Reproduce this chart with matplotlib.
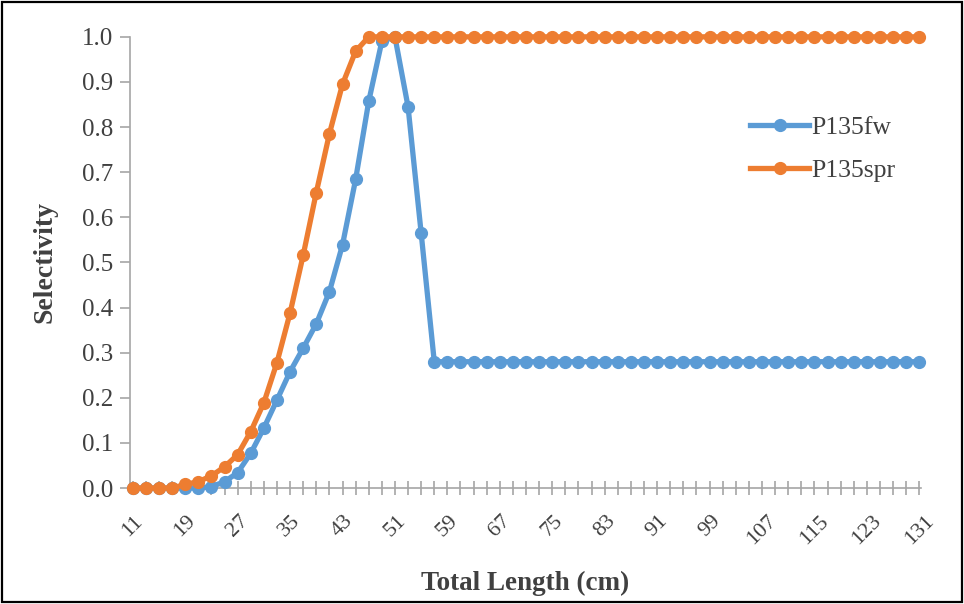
import numpy as np
import matplotlib.pyplot as plt

plt.rcParams.update({
    "font.family": ["Liberation Serif", "DejaVu Serif"],
    "font.size": 13,
})

# ── Data ─────────────────────────────────────────────────────
length = np.arange(11, 132, 2)

p135fw_head = [0.0, 0.0, 0.0, 0.0, 0.0, 0.0, 0.003, 0.014, 0.034, 0.077,
               0.133, 0.195, 0.258, 0.31, 0.364, 0.435, 0.539, 0.684,
               0.857, 0.99, 1.0, 0.845, 0.565, 0.28]
p135spr_head = [0.0, 0.0, 0.0, 0.0, 0.008, 0.014, 0.027, 0.047, 0.074,
                0.125, 0.189, 0.278, 0.388, 0.516, 0.655, 0.785, 0.895,
                0.968, 1.0]

p135fw = p135fw_head + [0.28] * (len(length) - len(p135fw_head))
p135spr = p135spr_head + [1.0] * (len(length) - len(p135spr_head))

tick_labels = length[::4]

COLOR_FW = "#5B9BD5"
COLOR_SPR = "#ED7D31"
AXIS_GRAY = "#a6a6a6"
TEXT = "#404040"

# ── Plot ─────────────────────────────────────────────────────
fig = plt.figure(figsize=(9.64, 6.04), dpi=100)
ax = fig.add_axes([0.135, 0.192, 0.82, 0.747])

ax.plot(length, p135fw, color=COLOR_FW, lw=3.8, marker="o", ms=8.5,
        label="P135fw", clip_on=False, zorder=3)
ax.plot(length, p135spr, color=COLOR_SPR, lw=3.8, marker="o", ms=8.5,
        label="P135spr", clip_on=False, zorder=4)

ax.set_xlim(10.6, 131.2)
ax.set_ylim(0, 1.0)
ax.set_yticks(np.arange(0, 1.01, 0.1))
ax.set_yticklabels([f"{v:.1f}" for v in np.arange(0, 1.01, 0.1)], fontsize=18)
ax.set_xticks(tick_labels)
ax.set_xticklabels(tick_labels, rotation=45, fontsize=16, ha="center")
ax.set_xticks(length, minor=True)

for s in ["top", "right"]:
    ax.spines[s].set_visible(False)
for s in ["left", "bottom"]:
    ax.spines[s].set_color(AXIS_GRAY)
    ax.spines[s].set_linewidth(1.2)

ax.tick_params(axis="y", direction="out", length=7, color=AXIS_GRAY,
               width=1.2, labelcolor=TEXT, pad=5)
ax.tick_params(axis="x", which="both", direction="inout", length=10,
               color=AXIS_GRAY, width=1.2, labelcolor=TEXT, pad=12)

ax.set_ylabel("Selectivity", fontsize=20, fontweight="bold", color=TEXT,
              labelpad=18)
ax.set_xlabel("Total Length (cm)", fontsize=19.5, fontweight="bold",
              color=TEXT, labelpad=16)

leg = ax.legend(loc="upper left", bbox_to_anchor=(0.755, 0.875), frameon=False,
                fontsize=18.5, handlelength=2.3, labelspacing=0.75,
                handletextpad=0.1)
for t in leg.get_texts():
    t.set_color(TEXT)

# outer frame
fig.add_artist(plt.Rectangle((0.002, 0.003), 0.996, 0.994,
                             transform=fig.transFigure, fill=False,
                             edgecolor="black", linewidth=1.6))

fig.savefig("out.png", dpi=100, facecolor="white")
